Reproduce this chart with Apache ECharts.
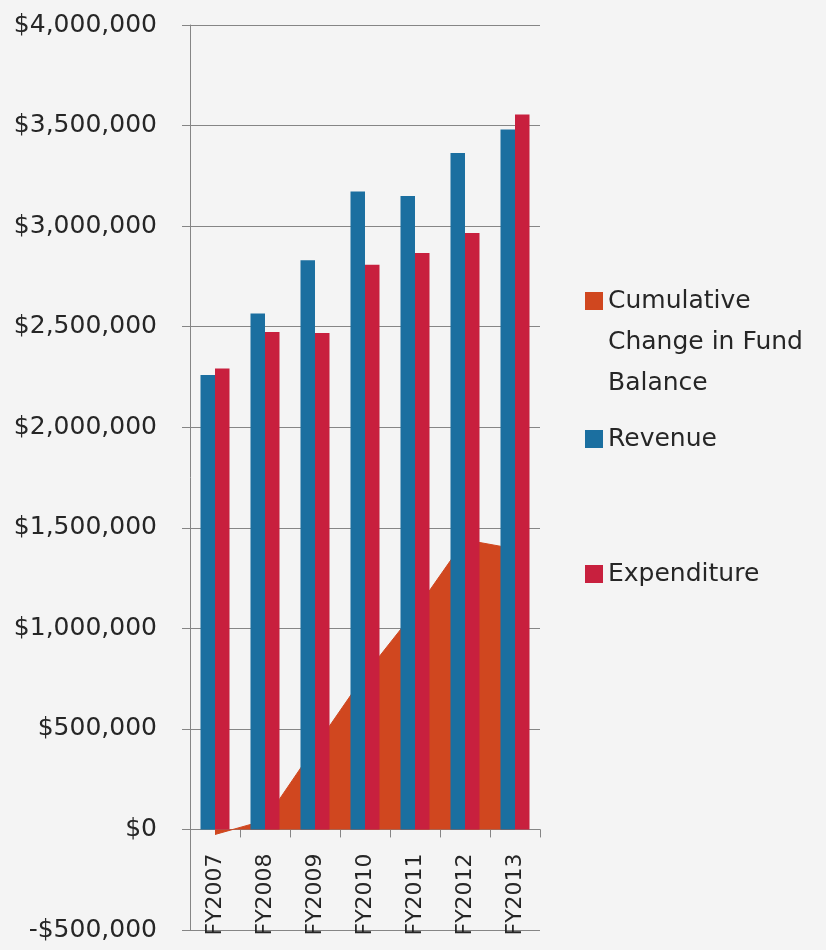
<!DOCTYPE html>
<html>
<head>
<meta charset="utf-8">
<script src="https://cdn.jsdelivr.net/npm/echarts@6/dist/echarts.min.js"></script>
<style>
  html, body { margin: 0; padding: 0; background: #f4f4f4; }
  #chart { width: 826px; height: 950px; }
</style>
</head>
<body>
<div id="chart"></div>
<script>
// Fiscal years on the category axis
const categories = ['FY2007', 'FY2008', 'FY2009', 'FY2010', 'FY2011', 'FY2012', 'FY2013'];

// Annual revenue and expenditure (dollars)
const revenue = [2260000, 2565000, 2830000, 3172000, 3150000, 3363000, 3480000];
const expenditure = [2292000, 2473000, 2468000, 2808000, 2866000, 2966000, 3555000];

// Running total of the change in fund balance (dollars)
const fundBalanceChange = [-25000, 45000, 410000, 770000, 1085000, 1440000, 1395000];

// Value axis range and step
const yMin = -500000;
const yMax = 4000000;
const yStep = 500000;

const seriesNames = ['Cumulative Change in Fund Balance', 'Revenue', 'Expenditure'];

const COLORS = {
  balance: '#d0471f',
  revenue: '#1b6fa0',
  expenditure: '#c8203e',
  text: '#262626',
  rule: '#858585'
};
const FONT = '"DejaVu Sans", Verdana, sans-serif';

// Plot box
const GRID = { left: 190, right: 286, top: 25, bottom: 20 };
const plotHeight = 950 - GRID.top - GRID.bottom;
// lift the category axis from the bottom edge up to the $0 line
const zeroLift = plotHeight * (0 - yMin) / (yMax - yMin);

function money(v) {
  const s = '$' + Math.abs(v).toLocaleString('en-US');
  return v < 0 ? '-' + s : s;
}

const legendText = { color: COLORS.text, fontSize: 25, fontFamily: FONT, lineHeight: 41 };

function legendBlock(name, top, formatter) {
  const block = {
    data: [name],
    orient: 'vertical',
    left: 585,
    top: top,
    padding: 0,
    icon: 'rect',
    itemWidth: 18,
    itemHeight: 18,
    textStyle: legendText
  };
  if (formatter) block.formatter = formatter;
  return block;
}

const chart = echarts.init(document.getElementById('chart'), null, { renderer: 'canvas' });

chart.setOption({
  backgroundColor: '#f4f4f4',
  animation: false,
  grid: Object.assign({ containLabel: false, outerBoundsMode: 'none' }, GRID),
  legend: [
    // two empty lines above keep the first wrapped line level with the swatch
    legendBlock(seriesNames[0], 198.5, () => '\n\nCumulative\nChange in Fund\nBalance'),
    legendBlock(seriesNames[1], 418.5),
    legendBlock(seriesNames[2], 553.5)
  ],
  xAxis: {
    type: 'category',
    data: categories,
    position: 'bottom',
    offset: -zeroLift,
    axisLine: { show: true, onZero: false, lineStyle: { color: COLORS.rule, width: 1 } },
    axisTick: { show: true, length: 8, lineStyle: { color: COLORS.rule } },
    axisLabel: {
      rotate: 90,
      margin: 24,
      color: COLORS.text,
      fontSize: 22,
      fontFamily: FONT
    },
    splitLine: { show: false }
  },
  yAxis: {
    type: 'value',
    min: yMin,
    max: yMax,
    interval: yStep,
    axisLine: { show: true, lineStyle: { color: COLORS.rule, width: 1 } },
    axisTick: { show: true, length: 8, lineStyle: { color: COLORS.rule } },
    axisLabel: {
      margin: 33,
      color: COLORS.text,
      fontSize: 25,
      fontFamily: FONT,
      formatter: money
    },
    splitLine: { show: true, lineStyle: { color: COLORS.rule, width: 1 } }
  },
  series: [
    {
      name: seriesNames[0],
      type: 'line',
      data: fundBalanceChange,
      z: 1,
      symbol: 'none',
      color: COLORS.balance,
      lineStyle: { color: COLORS.balance, width: 1 },
      areaStyle: { color: COLORS.balance, opacity: 1 }
    },
    {
      name: seriesNames[1],
      type: 'bar',
      data: revenue,
      z: 3,
      barWidth: 14.5,
      barGap: '0%',
      color: COLORS.revenue,
      itemStyle: { color: COLORS.revenue }
    },
    {
      name: seriesNames[2],
      type: 'bar',
      data: expenditure,
      z: 3,
      barWidth: 14.5,
      barGap: '0%',
      color: COLORS.expenditure,
      itemStyle: { color: COLORS.expenditure }
    }
  ]
});
</script>
</body>
</html>
